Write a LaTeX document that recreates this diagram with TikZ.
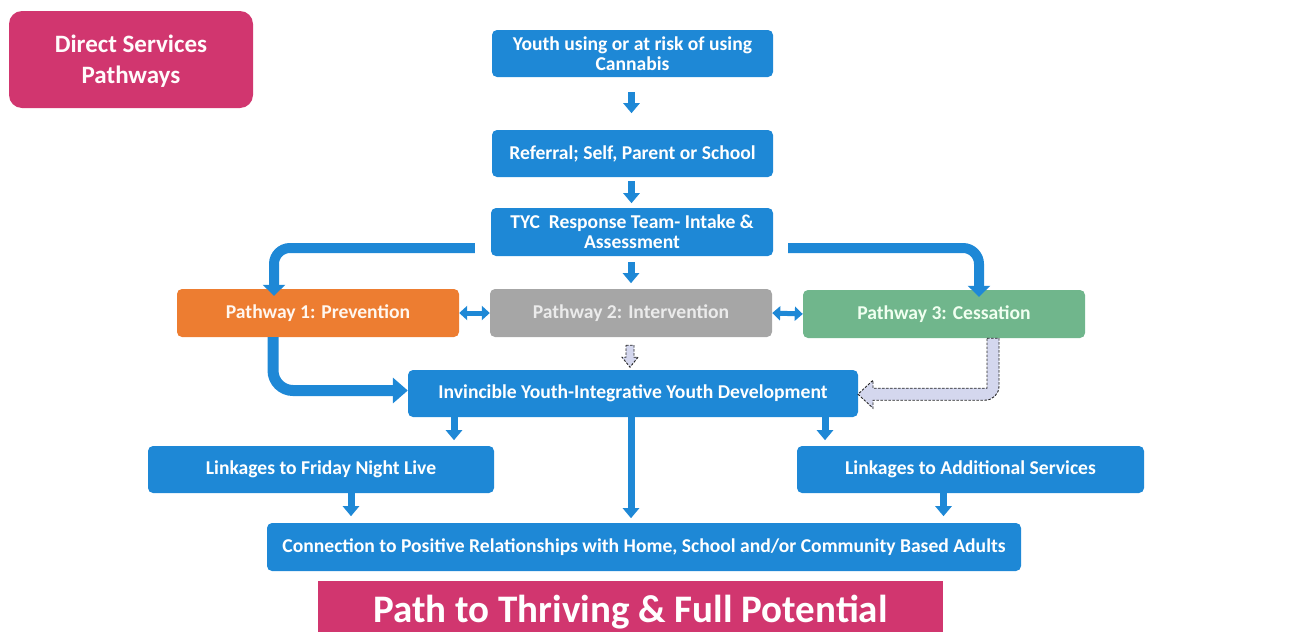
\documentclass[tikz,border=0pt]{standalone}
\usepackage{fontspec}
\setmainfont{Carlito}
\usetikzlibrary{arrows.meta,calc,positioning}

\definecolor{tblue}{HTML}{1E88D6}
\definecolor{tpink}{HTML}{D1366F}
\definecolor{torange}{HTML}{ED7D31}
\definecolor{tgray}{HTML}{A6A6A6}
\definecolor{tgreen}{HTML}{70B68C}
\definecolor{lav}{HTML}{D4D7EE}

\begin{document}
\begin{tikzpicture}[x=1pt,y=1pt,
  box/.style={rectangle,rounded corners=5pt,fill=tblue,text=white,minimum height=47pt,
    inner sep=2pt,align=center,font=\bfseries\fontsize{19.6}{20}\selectfont},
  flow/.style={tblue,line width=7pt,-{Triangle[width=16pt,length=10pt]}},
  branch/.style={tblue,line width=10pt,rounded corners=16pt,-{Triangle[width=22pt,length=11pt]}},
  twoway/.style={tblue,line width=5pt,{Triangle[width=14pt,length=8pt]}-{Triangle[width=14pt,length=8pt]}},
  hollow/.style={draw=black!85,fill=lav,line width=0.9pt,dash pattern=on 2.5pt off 1.5pt}]
\useasboundingbox (0,0) rectangle (1297,-632);

% boxes
\node[box,fill=tpink,rounded corners=13pt,minimum width=244pt,minimum height=97pt] (title) at (131,-59.5) {};
\node[font=\bfseries\fontsize{25}{31}\selectfont,text=white!94!pink,align=center] (titletext)
  at ($(title.center)+(0,-2)$) {Direct Services\\Pathways};
\node[box,minimum width=281pt] (youth) at (632.5,-53.5) {Youth using or at risk of using\\Cannabis};
\node[box,minimum width=281pt] (referral) at (632.5,-153.5) {Referral; Self, Parent or School};
\node[box,minimum width=282pt,minimum height=48pt] (tyc) at (632,-232) {TYC\ \ Response Team- Intake \&\\Assessment};
\node[box,fill=torange,text=white!94!orange,minimum width=282pt,minimum height=48pt] (prev) at (318,-313) {Pathway 1: Prevention};
\node[box,fill=tgray,text=white!92!black,minimum width=282pt,minimum height=48pt] (inter) at (631,-313) {Pathway 2: Intervention};
\node[box,fill=tgreen,text=white!94!green,minimum width=282pt,minimum height=48pt] (cess) at (944,-314) {Pathway 3: Cessation};
\node[box,minimum width=450pt] (iyd) at (633,-393.5) {Invincible Youth-Integrative Youth Development};
\node[box,minimum width=346pt] (fnl) at (321,-469.5) {Linkages to Friday Night Live};
\node[box,minimum width=347pt] (extra) at (970.5,-469.5) {Linkages to Additional Services};
\node[box,minimum width=754pt,minimum height=48pt] (conn) at (644,-547) {Connection to Positive Relationships with Home, School and/or Community Based Adults};
\node[box,fill=tpink,rounded corners=0pt,minimum width=625pt,minimum height=51pt] (thrive) at (630.5,-606.5) {};
\node[font=\bfseries\fontsize{39}{44}\selectfont,text=white,anchor=base] (thrivetext)
  at ($(thrive.center)+(0,-16)$) {Path to Thriving \& Full Potential};

% arrows
\draw[flow] ($(youth.south)+(-1,-15)$) -- ++(0,-21);
\draw[flow] ($(referral.south)+(-1,-4)$) -- ++(0,-22);
\draw[flow] ($(tyc.south)+(-1,-6)$) -- ++(0,-21);
\draw[branch] ($(tyc.west)+(-16,-16)$) -| ($(prev.north)+(-44,-7)$);
\draw[branch] ($(tyc.east)+(15,-16)$) -| ($(cess.north)+(35,-7)$);
\draw[twoway] (prev.east) -- (inter.west);
\draw[twoway] (inter.east) -- (cess.west);
\draw[hollow] ($(inter.south)+(-5,-8)$) -- ++(8,0) -- ++(0,-12) -- ++(4,0) -- ++(-8,-10)
  -- ++(-8,10) -- ++(4,0) -- cycle;
\draw[tblue,line width=11pt,rounded corners=20pt,-{Triangle[width=25pt,length=15pt]}]
  ($(prev.south)+(-45,0)$) |- ($(iyd.west)+(0,3)$);
\draw[hollow] ($(cess.south)+(43,0)$) -- ++(12,0) -- ++(0,-48)
  arc[start angle=0,end angle=-90,radius=14] -- ++(-112,0) -- ++(0,-8) -- ++(-15,14)
  -- ++(15,14) -- ++(0,-8) -- ++(114,0) -- cycle;
\draw[flow] ($(iyd.south)+(-179,0)$) -- ++(0,-23);
\draw[flow] ($(iyd.south)+(-2,0)$) -- ++(0,-101);
\draw[flow] ($(iyd.south)+(192,0)$) -- ++(0,-23);
\draw[flow] ($(fnl.south)+(30,0)$) -- ++(0,-23);
\draw[flow] ($(extra.south)+(-27,0)$) -- ++(0,-23);
\end{tikzpicture}
\end{document}
